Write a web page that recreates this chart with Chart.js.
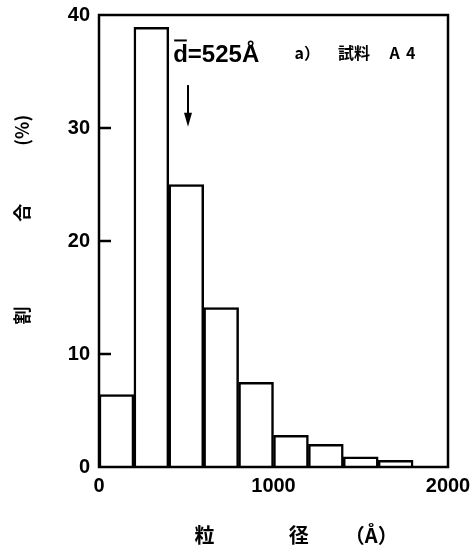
<!DOCTYPE html>
<html>
<head>
<meta charset="utf-8">
<script src="https://cdn.jsdelivr.net/npm/chart.js@4/dist/chart.umd.min.js"></script>
<style>
html,body{margin:0;padding:0;background:#fff;}
#wrap{width:472px;height:556px;position:relative;}
</style>
</head>
<body>
<div id="wrap"><canvas id="c" width="472" height="556"></canvas></div>
<script>
// ---- data ----
const binStarts = [0, 200, 400, 600, 800, 1000, 1200, 1400, 1600];
const binWidth = 200;
const shares = [6.4, 38.9, 25.0, 14.1, 7.5, 2.8, 2.0, 0.9, 0.6];
const xTickValues = [0, 1000, 2000];
const yTickValues = [0, 10, 20, 30, 40];
const innerYTicks = [10, 20, 30];
const meanLabel = 'd=525Å';
const arrowValue = 510;
const sampleParts = ['a）', '試料', 'A', '4'];
const yTitleParts = ['割', '合', '(%)'];
const xTitleParts = ['粒', '径', '（Å）'];

const points = binStarts.map((s, i) => ({ x: s + binWidth / 2, y: shares[i] }));

const decor = {
  id: 'decor',
  afterDraw(chart) {
    const ctx = chart.ctx, a = chart.chartArea;
    const xs = chart.scales.x, ys = chart.scales.y;
    ctx.save();
    ctx.strokeStyle = '#000';
    ctx.fillStyle = '#000';
    ctx.lineWidth = 2.5;
    ctx.strokeRect(a.left, a.top, a.right - a.left, a.bottom - a.top);
    // inward ticks
    innerYTicks.forEach(v => {
      const y = ys.getPixelForValue(v);
      ctx.beginPath(); ctx.moveTo(a.left, y); ctx.lineTo(a.left + 12, y); ctx.stroke();
    });
    // mean label
    ctx.font = 'bold 24px "Liberation Sans", Arial, sans-serif';
    ctx.textBaseline = 'alphabetic';
    ctx.textAlign = 'left';
    const tx = xs.getPixelForValue(425), ty = ys.getPixelForValue(35.8);
    ctx.fillText(meanLabel, tx, ty);
    const dw = ctx.measureText('d').width;
    ctx.lineWidth = 2;
    ctx.beginPath(); ctx.moveTo(tx + 1, ty - 22); ctx.lineTo(tx + dw - 1, ty - 22); ctx.stroke();
    // sample label
    ctx.font = 'bold 16px "Noto Sans CJK JP", sans-serif';
    ctx.textBaseline = 'middle';
    const sx = [1120, 1370, 1665, 1760];
    sampleParts.forEach((t, i) => ctx.fillText(t, xs.getPixelForValue(sx[i]), ys.getPixelForValue(36.6)));
    // arrow
    const ax = xs.getPixelForValue(arrowValue);
    const y1 = ys.getPixelForValue(33.8), y2 = ys.getPixelForValue(30.1);
    ctx.lineWidth = 2;
    ctx.beginPath(); ctx.moveTo(ax, y1); ctx.lineTo(ax, y2 - 10); ctx.stroke();
    ctx.beginPath(); ctx.moveTo(ax - 4, y2 - 14); ctx.lineTo(ax + 4, y2 - 14); ctx.lineTo(ax, y2); ctx.closePath(); ctx.fill();
    // y title (rotated)
    ctx.font = 'bold 18px "Noto Sans CJK JP", sans-serif';
    ctx.textAlign = 'center'; ctx.textBaseline = 'middle';
    const yPos = [ys.getPixelForValue(13.4), ys.getPixelForValue(22.5), ys.getPixelForValue(29.8)];
    yTitleParts.forEach((t, i) => {
      ctx.save(); ctx.translate(22, yPos[i]); ctx.rotate(-Math.PI / 2); ctx.fillText(t, 0, 0); ctx.restore();
    });
    // x title
    ctx.font = 'bold 20px "Noto Sans CJK JP", sans-serif';
    const xPos = [xs.getPixelForValue(605), xs.getPixelForValue(1145), xs.getPixelForValue(1560)];
    xTitleParts.forEach((t, i) => ctx.fillText(t, xPos[i], 535));
    ctx.restore();
  }
};

new Chart(document.getElementById('c'), {
  type: 'bar',
  data: {
    datasets: [{
      data: points,
      backgroundColor: '#fff',
      borderColor: '#000',
      borderWidth: 2.5,
      barPercentage: 1,
      categoryPercentage: 1,
      borderSkipped: 'bottom'
    }]
  },
  options: {
    responsive: false,
    animation: false,
    devicePixelRatio: 1,
    layout: { padding: { top: 15, right: 24, left: 0, bottom: 0 } },
    plugins: { legend: { display: false }, tooltip: { enabled: false } },
    scales: {
      x: {
        type: 'linear', min: 0, max: 2000, offset: false,
        afterBuildTicks: s => { s.ticks = xTickValues.map(v => ({ value: v })); },
        afterFit: s => { s.height = 89; s.paddingLeft = 0; s.paddingRight = 0; },
        grid: { display: false, drawTicks: false },
        border: { display: false },
        ticks: { color: '#000', padding: 7, maxRotation: 0, autoSkip: false,
          callback: v => String(v),
          font: { family: '"Liberation Sans", Arial, sans-serif', weight: 'bold', size: 20 } }
      },
      y: {
        min: 0, max: 40,
        afterBuildTicks: s => { s.ticks = yTickValues.map(v => ({ value: v })); },
        afterFit: s => { s.width = 99; s.paddingTop = 0; s.paddingBottom = 0; },
        grid: { display: false, drawTicks: false },
        border: { display: false },
        ticks: { color: '#000', padding: 9,
          font: { family: '"Liberation Sans", Arial, sans-serif', weight: 'bold', size: 20 } }
      }
    }
  },
  plugins: [decor]
});
</script>
</body>
</html>
